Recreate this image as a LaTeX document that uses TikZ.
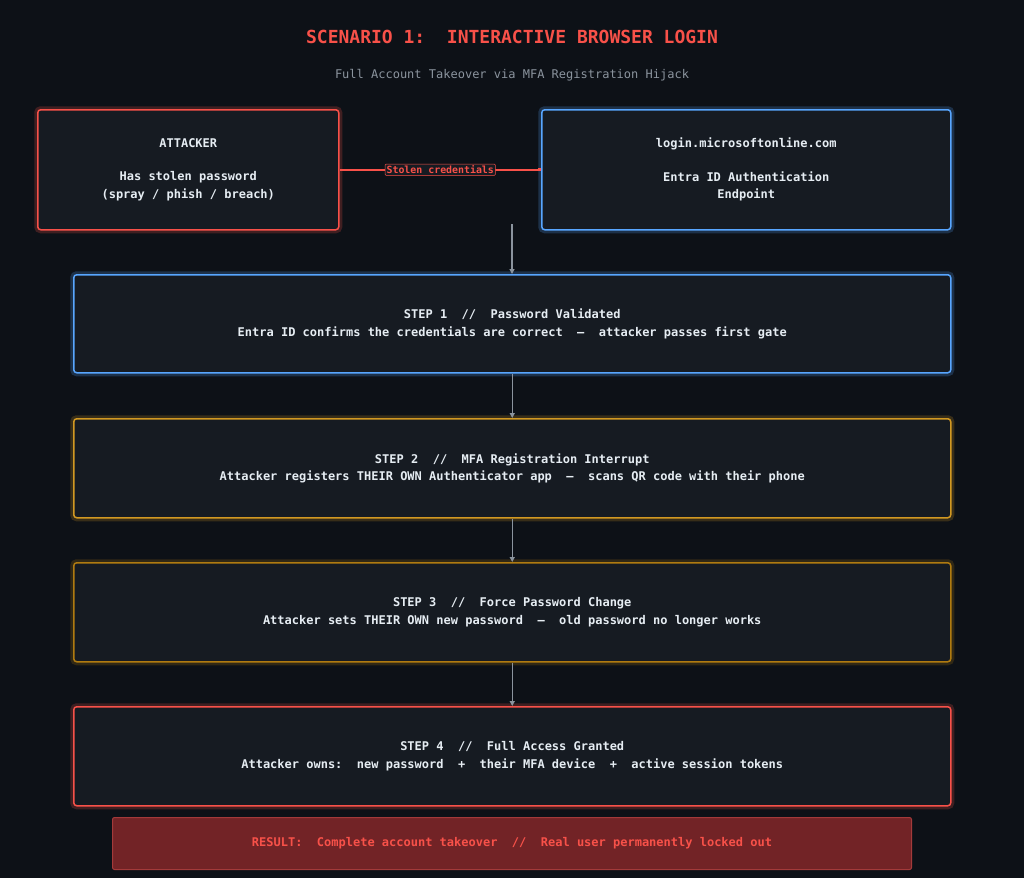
\documentclass[tikz,border=0pt]{standalone}
\usepackage{fontspec}
\setmonofont{DejaVu Sans Mono}
\usetikzlibrary{arrows.meta}
\definecolor{bg}{HTML}{0D1117}
\definecolor{boxf}{HTML}{161B22}
\definecolor{cred}{HTML}{F85149}
\definecolor{cblue}{HTML}{58A6FF}
\definecolor{cyel}{HTML}{D29922}
\definecolor{corg}{HTML}{B07B10}
\definecolor{ctxt}{HTML}{E6EDF3}
\definecolor{cgray}{HTML}{8B949E}
\definecolor{resf}{HTML}{722326}
\definecolor{resd}{HTML}{A33A3A}
\begin{document}
\begin{tikzpicture}[x=1pt,y=-1pt,
  font=\ttfamily\bfseries\fontsize{12}{17.5}\selectfont,
  card/.style={draw=#1,line width=1.5pt,fill=boxf,rounded corners=3pt,text=ctxt,align=center,anchor=north west,inner sep=0pt,
    preaction={draw=#1,draw opacity=0.22,line width=7pt}},
  flow/.style={draw=cgray,line width=1.4pt,-{Triangle[length=5pt,width=5pt]}}]
\fill[bg] (0,0) rectangle (1024,878);
\useasboundingbox (0,0) rectangle (1024,878);
\node[text=cred,font=\ttfamily\bfseries\fontsize{18}{20}\selectfont] (title) at (512,37) {SCENARIO 1:\ \ INTERACTIVE BROWSER LOGIN};
\node[text=cgray,font=\ttfamily\fontsize{12}{14}\selectfont] (sub) at (512,75) {Full Account Takeover via MFA Registration Hijack};
\node[card=cred,minimum width=301pt,minimum height=120pt] (att) at (37,109) {ATTACKER\\[16pt]Has stolen password\\(spray / phish / breach)};
\node[card=cblue,minimum width=409pt,minimum height=120pt] (login) at (541,109) {login.microsoftonline.com\\[16pt]Entra ID Authentication\\Endpoint};
\node[card=cblue,minimum width=877pt,minimum height=98pt] (s1) at (73,274) {STEP 1\ \ //\ \ Password Validated\\Entra ID confirms the credentials are correct\ \ —\ \ attacker passes first gate};
\node[card=cyel,minimum width=877pt,minimum height=99pt] (s2) at (73,418) {STEP 2\ \ //\ \ MFA Registration Interrupt\\Attacker registers THEIR OWN Authenticator app\ \ —\ \ scans QR code with their phone};
\node[card=corg,minimum width=877pt,minimum height=99pt] (s3) at (73,562) {STEP 3\ \ //\ \ Force Password Change\\Attacker sets THEIR OWN new password\ \ —\ \ old password no longer works};
\node[card=cred,minimum width=877pt,minimum height=99pt] (s4) at (73,706) {STEP 4\ \ //\ \ Full Access Granted\\Attacker owns:\ \ new password\ \ +\ \ their MFA device\ \ +\ \ active session tokens};
\node[draw=resd,line width=1pt,fill=resf,rounded corners=2pt,anchor=north west,minimum width=799pt,minimum height=52pt,text=cred] (res) at (112,817) {RESULT:\ \ Complete account takeover\ \ //\ \ Real user permanently locked out};
\draw[draw=cred,line width=1.5pt,-{Rectangle[length=3pt,width=3pt]}] (att.east) -- node[fill=boxf,draw=cred,line width=0.6pt,inner sep=1.5pt,rounded corners=1pt,text=cred,font=\ttfamily\bfseries\fontsize{9.9}{11}\selectfont] (lab) {Stolen credentials} (login.west);
\coordinate (c0) at (512,224);
\draw[flow] (c0) -- (c0 |- s1.north);
\draw[flow] (s1.south) -- (s2.north);
\draw[flow] (s2.south) -- (s3.north);
\draw[flow] (s3.south) -- (s4.north);
\end{tikzpicture}
\end{document}
